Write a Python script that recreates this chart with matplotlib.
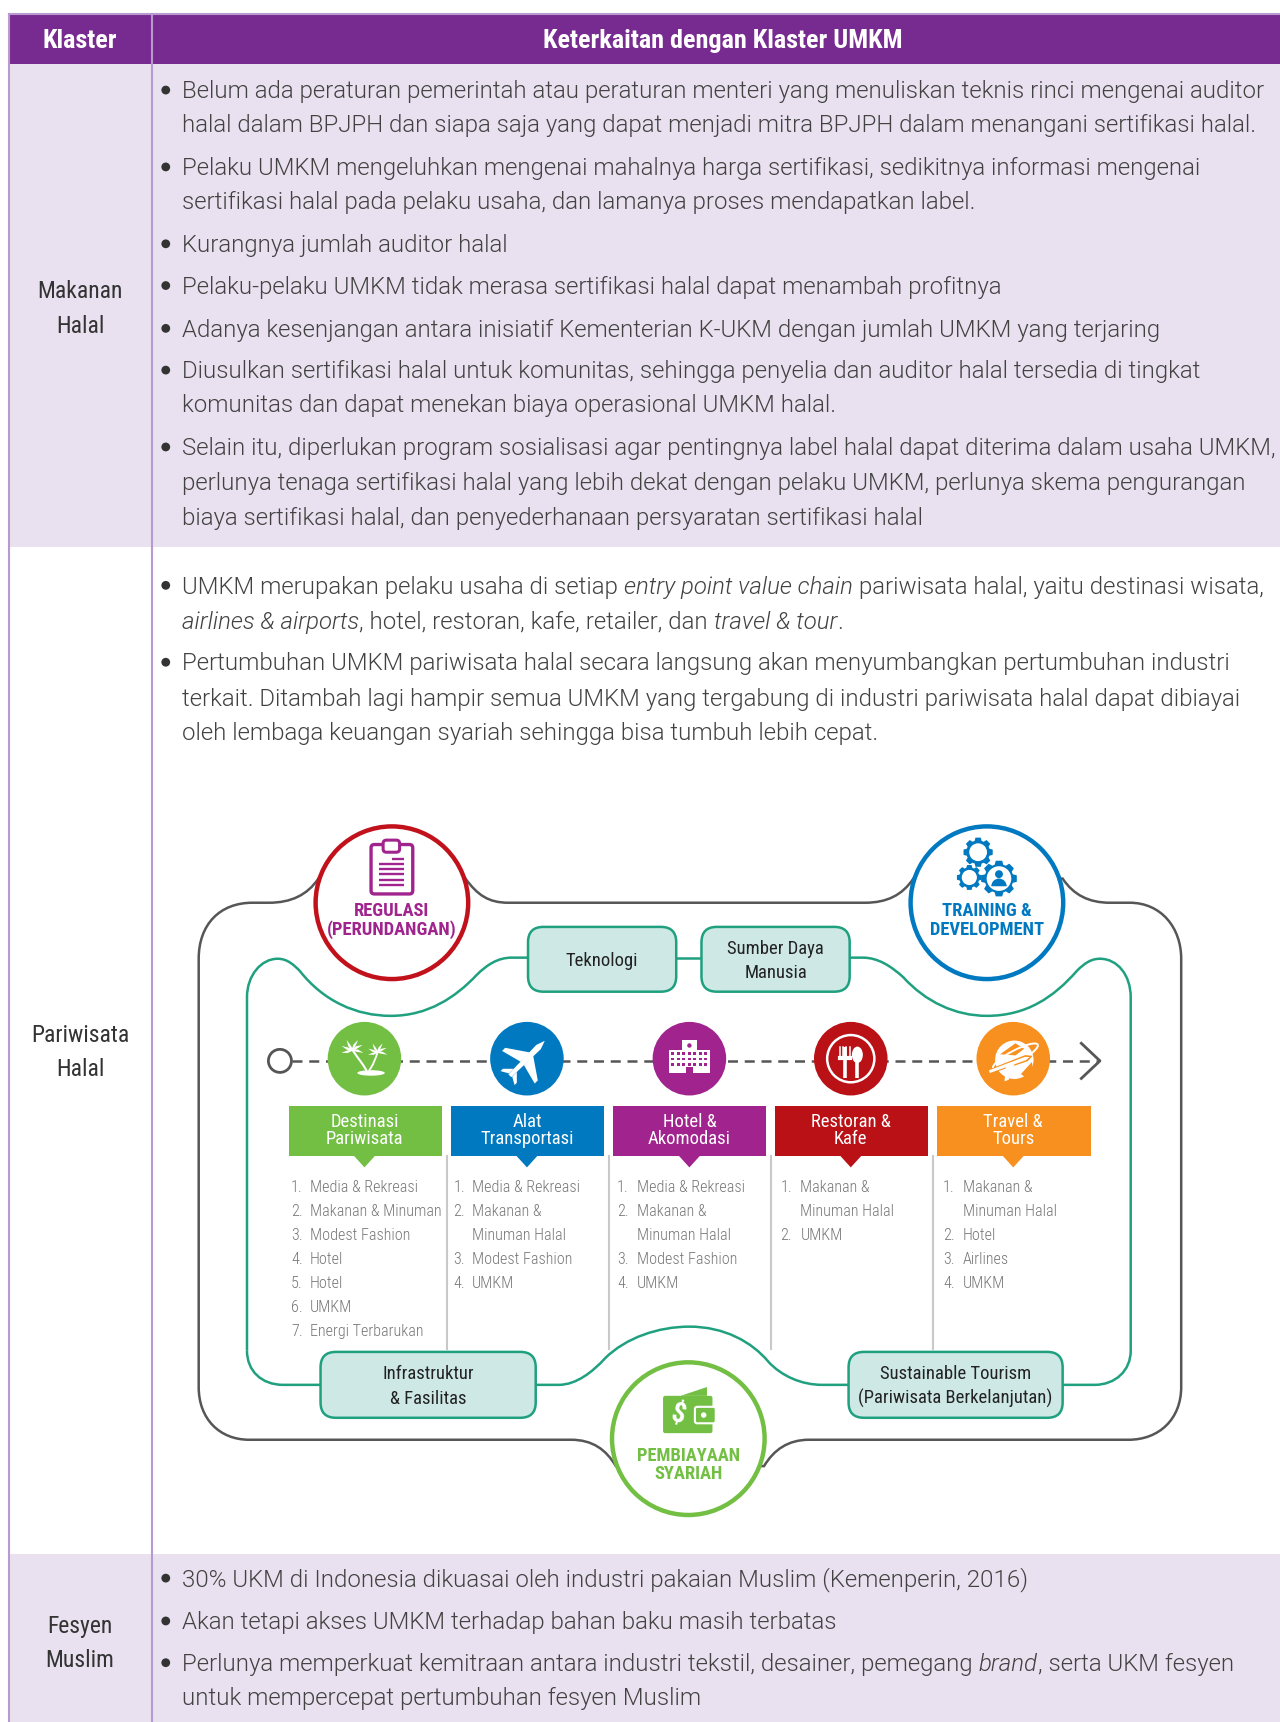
import numpy as np
import matplotlib
matplotlib.use("Agg")
import matplotlib.pyplot as plt
from matplotlib.path import Path
from matplotlib.patches import PathPatch, Circle, Rectangle, FancyBboxPatch, Polygon, Ellipse, Wedge
import logging
logging.getLogger("matplotlib.font_manager").setLevel(logging.ERROR)

# ── Isi tabel ────────────────────────────────────────────────────────────────
HEADER = ["Klaster", "Keterkaitan dengan Klaster UMKM"]
CLUSTERS = [["Makanan", "Halal"], ["Pariwisata", "Halal"], ["Fesyen", "Muslim"]]
CLUSTER_Y = [[265, 297], [943, 974], [1481, 1512]]

# teks di antara * dicetak miring
ROW1 = [
    ["Belum ada peraturan pemerintah atau peraturan menteri yang menuliskan teknis rinci mengenai auditor",
     "halal dalam BPJPH dan siapa saja yang dapat menjadi mitra BPJPH dalam menangani sertifikasi halal."],
    ["Pelaku UMKM mengeluhkan mengenai mahalnya harga sertifikasi, sedikitnya informasi mengenai",
     "sertifikasi halal pada pelaku usaha, dan lamanya proses mendapatkan label."],
    ["Kurangnya jumlah auditor halal"],
    ["Pelaku-pelaku UMKM tidak merasa sertifikasi halal dapat menambah profitnya"],
    ["Adanya kesenjangan antara inisiatif Kementerian K-UKM dengan jumlah UMKM yang terjaring"],
    ["Diusulkan sertifikasi halal untuk komunitas, sehingga penyelia dan auditor halal tersedia di tingkat",
     "komunitas dan dapat menekan biaya operasional UMKM halal."],
    ["Selain itu, diperlukan program sosialisasi agar pentingnya label halal dapat diterima dalam usaha UMKM,",
     "perlunya tenaga sertifikasi halal yang lebih dekat dengan pelaku UMKM, perlunya skema pengurangan",
     "biaya sertifikasi halal, dan penyederhanaan persyaratan sertifikasi halal"],
]
ROW1_Y = [[82, 113], [152, 183], [222], [260], [299], [337, 368], [407, 439, 471]]
ROW2 = [
    ["UMKM merupakan pelaku usaha di setiap *entry point value chain* pariwisata halal, yaitu destinasi wisata,",
     "*airlines & airports*, hotel, restoran, kafe, retailer, dan *travel & tour*."],
    ["Pertumbuhan UMKM pariwisata halal secara langsung akan menyumbangkan pertumbuhan industri",
     "terkait. Ditambah lagi hampir semua UMKM yang tergabung di industri pariwisata halal dapat dibiayai",
     "oleh lembaga keuangan syariah sehingga bisa tumbuh lebih cepat."],
]
ROW2_Y = [[533, 565], [603, 635, 666]]
ROW3 = [
    ["30% UKM di Indonesia dikuasai oleh industri pakaian Muslim (Kemenperin, 2016)"],
    ["Akan tetapi akses UMKM terhadap bahan baku masih terbatas"],
    ["Perlunya memperkuat kemitraan antara industri tekstil, desainer, pemegang *brand*, serta UKM fesyen",
     "untuk mempercepat pertumbuhan fesyen Muslim"],
]
ROW3_Y = [[1437], [1476], [1514, 1545]]

CHAIN_TITLES = [["Destinasi", "Pariwisata"], ["Alat", "Transportasi"], ["Hotel &", "Akomodasi"],
                ["Restoran &", "Kafe"], ["Travel &", "Tours"]]
CHAIN_COLORS = ["#72bf44", "#0079c1", "#a0238e", "#b91116", "#f7901e"]
CHAIN_ITEMS = [
    [("1.", "Media & Rekreasi"), ("2.", "Makanan & Minuman"), ("3.", "Modest Fashion"), ("4.", "Hotel"),
     ("5.", "Hotel"), ("6.", "UMKM"), ("7.", "Energi Terbarukan")],
    [("1.", "Media & Rekreasi"), ("2.", "Makanan &"), ("", "Minuman Halal"), ("3.", "Modest Fashion"), ("4.", "UMKM")],
    [("1.", "Media & Rekreasi"), ("2.", "Makanan &"), ("", "Minuman Halal"), ("3.", "Modest Fashion"), ("4.", "UMKM")],
    [("1.", "Makanan &"), ("", "Minuman Halal"), ("2.", "UMKM")],
    [("1.", "Makanan &"), ("", "Minuman Halal"), ("2.", "Hotel"), ("3.", "Airlines"), ("4.", "UMKM")],
]

PURPLE = "#772a8f"
ROW_BG = "#e9e1ef"
RULE = "#b99ad0"
TEAL = "#1fa07f"
TEAL_BG = "#cde8e5"
GRAY = "#565656"
BODY = "#424242"

NARROW = ["Roboto Condensed", "Liberation Sans Narrow", "Roboto"]
LIGHT = ["Roboto"]

fig = plt.figure(figsize=(12.8, 17.22), dpi=100)
ax = fig.add_axes([0, 0, 1, 1])
ax.set_xlim(0, 1166)
ax.set_ylim(1568, 0)
ax.axis("off")
renderer = fig.canvas.get_renderer()
UNIT = 1280 / 1166


def text_width(s, **kw):
    a = ax.text(0, 0, s + "|", **kw)
    b = ax.text(0, 0, "|", **kw)
    w = a.get_window_extent(renderer).width - b.get_window_extent(renderer).width
    a.remove()
    b.remove()
    return w / UNIT


def body_line(x, y, line):
    for i, part in enumerate(line.split("*")):
        if not part:
            continue
        kw = dict(family=LIGHT, fontsize=17.25, weight=300, color=BODY,
                  style="italic" if i % 2 else "normal")
        ax.text(x, y + 7.5, part, va="baseline", ha="left", **kw)
        x += text_width(part, **kw)


def bullets(rows, ys):
    for lines, yy in zip(rows, ys):
        ax.add_patch(Circle((151, yy[0]), 4, fc="#333333", ec="none", zorder=3))
        for line, y in zip(lines, yy):
            body_line(166, y, line)


def draw_path(cmds, color, lw, zorder=2):
    verts, codes = [], []
    for c in cmds:
        if c[0] == "M":
            verts.append(c[1]); codes.append(Path.MOVETO)
        elif c[0] == "L":
            verts.append(c[1]); codes.append(Path.LINETO)
        else:
            verts += [c[1], c[2], c[3]]; codes += [Path.CURVE4] * 3
    ax.add_patch(PathPatch(Path(verts, codes), fc="none", ec=color, lw=lw, zorder=zorder))


def poly(pts, color, z=6):
    ax.add_patch(Polygon(pts, closed=True, fc=color, ec="none", zorder=z))


def rotated(pts, cx, cy, deg, s=1.0):
    a = np.deg2rad(deg)
    out = []
    for px, py in pts:
        out.append((cx + s * (px * np.cos(a) - py * np.sin(a)), cy + s * (px * np.sin(a) + py * np.cos(a))))
    return out


def gear(cx, cy, r, color, hole=0.6):
    pts = []
    n = 8
    for i in range(n):
        base = 2 * np.pi * i / n
        for off, rad in [(-0.30, r * 0.8), (-0.18, r), (0.18, r), (0.30, r * 0.8)]:
            pts.append((cx + rad * np.cos(base + off), cy + rad * np.sin(base + off)))
    poly(pts, color, 6)
    ax.add_patch(Circle((cx, cy), r * hole, fc="white", ec="none", zorder=7))


# ── Tabel ────────────────────────────────────────────────────────────────────
ax.add_patch(Rectangle((8, 58), 1158, 440, fc=ROW_BG, ec="none", zorder=0))
ax.add_patch(Rectangle((8, 1415), 1158, 153, fc=ROW_BG, ec="none", zorder=0))
ax.add_patch(Rectangle((8, 13), 1158, 45, fc=PURPLE, ec="none", zorder=1))
ax.plot([8, 1166], [13, 13], color=RULE, lw=1.5, zorder=2)
ax.plot([8, 8], [13, 1568], color=RULE, lw=1.5, zorder=2)
ax.plot([138.5, 138.5], [13, 1568], color=RULE, lw=1.5, zorder=2)
ax.text(73, 37.5, HEADER[0], color="white", family=NARROW, weight="bold", fontsize=18.9, ha="center", va="center")
ax.text(658, 37.5, HEADER[1], color="white", family=NARROW, weight="bold", fontsize=18.9, ha="center", va="center")

for names, yy in zip(CLUSTERS, CLUSTER_Y):
    for name, y in zip(names, yy):
        ax.text(73, y, name, color="#333333", family=NARROW, fontsize=17, ha="center", va="center")

bullets(ROW1, ROW1_Y)
bullets(ROW2, ROW2_Y)
bullets(ROW3, ROW3_Y)

# ── Bingkai luar (abu-abu) ───────────────────────────────────────────────────
draw_path([("M", (181, 873)), ("C", (181, 842), (200, 822), (230, 822)), ("L", (245, 822)),
           ("C", (265, 822), (280, 815), (290, 800)), ("L", (424, 800)),
           ("C", (435, 815), (445, 822), (463, 822)), ("L", (788, 822)),
           ("C", (808, 822), (822, 815), (832, 800)), ("L", (968, 800)),
           ("C", (978, 815), (992, 822), (1011, 822)), ("L", (1029, 822)),
           ("C", (1058, 822), (1076, 845), (1076, 873)), ("L", (1076, 1263)),
           ("C", (1076, 1292), (1056, 1311), (1028, 1311)), ("L", (737, 1311)),
           ("C", (718, 1311), (705, 1320), (696, 1335)), ("L", (561, 1335)),
           ("C", (552, 1320), (540, 1311), (520, 1311)), ("L", (227, 1311)),
           ("C", (200, 1311), (181, 1292), (181, 1263)), ("L", (181, 873))], GRAY, 1.8)

# ── Bingkai dalam (hijau) ────────────────────────────────────────────────────
draw_path([("M", (225, 1230)), ("L", (225, 908)),
           ("C", (225, 888), (238, 873), (253, 873)),
           ("C", (262, 873), (268, 879), (273, 884)),
           ("C", (295, 912), (325, 925), (356, 925)),
           ("C", (390, 925), (415, 908), (434, 888)),
           ("C", (444, 878), (454, 872), (466, 872)), ("L", (481, 872))], TEAL, 1.8)
draw_path([("M", (616, 872)), ("L", (639, 872))], TEAL, 1.8)
draw_path([("M", (774, 872)), ("L", (786, 872)),
           ("C", (800, 872), (812, 880), (823, 890)),
           ("C", (843, 912), (870, 925), (899, 925)),
           ("C", (935, 925), (960, 908), (981, 884)),
           ("C", (988, 877), (994, 873), (1002, 873)),
           ("C", (1018, 873), (1030, 888), (1030, 908)), ("L", (1030, 1230)),
           ("C", (1030, 1248), (1016, 1261), (997, 1261)), ("L", (968, 1261))], TEAL, 1.8)
draw_path([("M", (488, 1261)), ("L", (509, 1261)),
           ("C", (525, 1261), (540, 1249), (551, 1237)),
           ("C", (570, 1218), (600, 1208), (628, 1208)),
           ("C", (660, 1208), (685, 1222), (700, 1240)),
           ("C", (712, 1253), (730, 1261), (749, 1261)), ("L", (773, 1261))], TEAL, 1.8)
draw_path([("M", (225, 1230)), ("C", (225, 1248), (238, 1261), (258, 1261)), ("L", (292, 1261))], TEAL, 1.8)

BOX_TEXT = [["Teknologi"], ["Sumber Daya", "Manusia"], ["Infrastruktur", "& Fasilitas"],
            ["Sustainable Tourism", "(Pariwisata Berkelanjutan)"]]
BOX_POS = [(481, 844, 135, 59), (639, 844, 135, 59), (292, 1231, 196, 60), (773, 1231, 195, 60)]
for lines, (bx, by, bw, bh) in zip(BOX_TEXT, BOX_POS):
    ax.add_patch(FancyBboxPatch((bx + 14, by + 14), bw - 28, bh - 28, boxstyle="round,pad=14,rounding_size=14",
                                fc=TEAL_BG, ec=TEAL, lw=1.8, zorder=4, mutation_aspect=1))
    cy = by + bh / 2 + 1.5
    ys = [cy] if len(lines) == 1 else [cy - 11, cy + 11]
    for line, y in zip(lines, ys):
        ax.text(bx + bw / 2, y, line, color="#222222", family=NARROW, fontsize=13.4, ha="center", va="center", zorder=5)

# ── Lingkaran besar ──────────────────────────────────────────────────────────
BIG = [(357, 822, "#c1121c"), (899, 822, "#0079c1"), (627, 1310, "#72bf44")]
for cx, cy, col in BIG:
    ax.add_patch(Circle((cx, cy), 69.5, fc="white", ec=col, lw=3.2, zorder=4))
BIG_TEXT = [(357, ["REGULASI", "(PERUNDANGAN)"], "#a0238e", [829.5, 846.5]),
            (899, ["TRAINING &", "DEVELOPMENT"], "#0079c1", [829.5, 846.5]),
            (627, ["PEMBIAYAAN", "SYARIAH"], "#72bf44", [1325.5, 1342.5])]
for x, lines, col, ys in BIG_TEXT:
    for line, y in zip(lines, ys):
        ax.text(x, y, line, color=col, family=NARROW, weight="bold", fontsize=13.3, ha="center", va="center", zorder=6)

# ikon clipboard
ax.add_patch(FancyBboxPatch((340, 771), 34, 41, boxstyle="round,pad=2,rounding_size=3", fc="white", ec="#a0238e", lw=2.4, zorder=6))
ax.add_patch(FancyBboxPatch((350, 766), 13, 9, boxstyle="round,pad=1,rounding_size=3", fc="white", ec="#a0238e", lw=2.2, zorder=7))
for y0, x0 in zip([782, 787, 791.5, 796, 801, 805.5], [357, 345, 345, 345, 345, 345]):
    ax.plot([x0, 368], [y0, y0], color="#a0238e", lw=1.7, zorder=7, solid_capstyle="butt")

# ikon gir
gear(891, 776, 13.5, "#0079c1")
gear(883, 799, 11.5, "#0079c1")
gear(910, 800, 16.5, "#0079c1", 0.68)
ax.add_patch(Circle((910, 796), 3.6, fc="#0079c1", ec="none", zorder=8))
ax.add_patch(Wedge((910, 807), 7, 180, 360, fc="#0079c1", ec="none", zorder=8))

# ikon dompet
poly([(620, 1271), (644, 1263), (644, 1271)], "#72bf44")
ax.add_patch(FancyBboxPatch((605, 1272), 43, 32, boxstyle="round,pad=1,rounding_size=2", fc="#72bf44", ec="none", zorder=6))
ax.add_patch(FancyBboxPatch((634, 1282), 17, 13, boxstyle="round,pad=1,rounding_size=2", fc="#72bf44", ec="white", lw=1.5, zorder=7))
ax.add_patch(Circle((641, 1288.5), 2.5, fc="white", ec="none", zorder=8))
ax.text(618, 1288, "$", color="white", family=NARROW, weight="bold", fontsize=20, rotation=-15, ha="center", va="center", zorder=7)

# ── Rantai nilai ─────────────────────────────────────────────────────────────
ax.plot([266, 1000], [966, 966], color=GRAY, lw=1.8, dashes=(4, 2.7), zorder=2)
ax.add_patch(Circle((255, 966), 10.5, fc="white", ec=GRAY, lw=2, zorder=3))
ax.plot([985, 1002, 985], [950, 966, 982], color=GRAY, lw=2, zorder=3)

HEAD_LEFT = [263, 411, 558, 706, 854]
ICON_X = [332, 480, 628, 775, 923]
NUM_X = [265, 413, 562, 711, 859]
TXT_X = [282, 430, 580, 729, 877]
DIVIDERS = [407.5, 555, 702.5, 850]

for x in DIVIDERS:
    ax.plot([x, x], [1053, 1228], color="#c9c9c9", lw=1.5, zorder=1)

for i in range(5):
    col = CHAIN_COLORS[i]
    left = HEAD_LEFT[i]
    ax.add_patch(Circle((ICON_X[i], 964), 33.5, fc=col, ec="none", zorder=4))
    ax.add_patch(Rectangle((left, 1007), 139.5, 46, fc=col, ec="none", zorder=3))
    poly([(ICON_X[i] - 10, 1052), (ICON_X[i] + 10, 1052), (ICON_X[i], 1063)], col, 3)
    for line, y in zip(CHAIN_TITLES[i], [1022, 1037]):
        ax.text(ICON_X[i], y, line, color="white", family=NARROW, fontsize=13.4, ha="center", va="center", zorder=5)
    for k, (num, item) in enumerate(CHAIN_ITEMS[i]):
        y = 1081 + 21.95 * k
        if num:
            ax.text(NUM_X[i], y, num, color="#777777", family=NARROW, weight=300, fontsize=11.6, va="center", zorder=5)
        ax.text(TXT_X[i], y, item, color="#777777", family=NARROW, weight=300, fontsize=11.6, va="center", zorder=5)

# ikon pantai
ax.add_patch(Ellipse((338, 977), 25, 5, fc="white", ec="none", zorder=6))
draw_path([("M", (334, 975)), ("C", (330, 968), (325, 962), (321, 956))], "white", 1.5, 6)
draw_path([("M", (336, 975)), ("C", (340, 970), (342, 964), (344, 958))], "white", 1.3, 6)
for cx, cy, s in [(321, 956, 0.8), (344, 958, 0.7)]:
    for deg in [200, 240, 300, 335, 15, 165]:
        poly(rotated([(0, -1), (6, -2), (13, 0), (6, 0.8), (0, 1)], cx, cy, deg, s), "white")

# ikon pesawat
PLANE = [(-22, -1.8), (15, -2.8), (23, 0), (15, 2.8), (-22, 1.8)]
WING = [(-6, -2), (6, -2), (-7, -21), (-11, -21)]
c0 = (480, 964)
poly(rotated(PLANE, c0[0], c0[1], -45), "white")
poly(rotated(WING, c0[0], c0[1], -45), "white")
poly(rotated([(x, -y) for x, y in WING], c0[0], c0[1], -45), "white")
poly(rotated([(-21, -2), (-15, -2), (-22, -9), (-25, -9)], c0[0], c0[1], -45), "white")
poly(rotated([(-21, 2), (-15, 2), (-22, 9), (-25, 9)], c0[0], c0[1], -45), "white")

# ikon rumah sakit
ax.add_patch(Rectangle((609, 956), 38, 21, fc="white", ec="none", zorder=6))
ax.add_patch(Rectangle((621, 947), 14, 10, fc="white", ec="none", zorder=6))
for gx in [611.5, 616.5, 621.5, 626.5, 631.5, 636.5, 641.5]:
    for gy in [958, 963, 968]:
        ax.add_patch(Rectangle((gx, gy), 2.6, 2.6, fc="#a0238e", ec="none", zorder=7))
ax.add_patch(Circle((628, 952), 2, fc="#a0238e", ec="none", zorder=7))
ax.add_patch(Rectangle((625, 972), 6, 5, fc="#a0238e", ec="none", zorder=7))

# ikon restoran
ax.add_patch(Circle((775, 964), 21.5, fc="none", ec="white", lw=1.8, zorder=6))
ax.plot([769.5, 769.5], [953, 982], color="white", lw=2.6, solid_capstyle="butt", zorder=6)
for fx in [765, 768, 771, 774]:
    ax.plot([fx, fx], [953, 963], color="white", lw=1.1, zorder=6)
ax.plot([765, 774], [963, 963], color="white", lw=3, zorder=6)
ax.add_patch(Ellipse((781, 960.5), 10, 15, fc="white", ec="none", zorder=6))
ax.plot([781, 781], [962, 982], color="white", lw=2.6, solid_capstyle="butt", zorder=6)

# ikon wisata
ax.add_patch(Circle((924, 965), 17.5, fc="white", ec="none", zorder=6))
poly([(911, 960), (925, 950), (933, 955), (925, 961)], "#f7901e", 7)
poly([(930, 978), (940, 967), (941, 974), (934, 981)], "#f7901e", 7)
ax.add_patch(Ellipse((925, 962), 46, 11, angle=-28, fc="none", ec="white", lw=1.4, zorder=7))
poly(rotated([(-22, -2), (16, -3), (22, 0), (16, 3), (-22, 2)], 920, 969, -20), "#f7901e", 8)
poly(rotated([(-20, -1.3), (15, -1.6), (19, 0), (15, 1.6), (-20, 1.3)], 920, 969, -20), "white", 9)
poly(rotated([(-4, 0), (5, 0), (-6, 13), (-10, 13)], 920, 969, -20), "white", 9)

fig.savefig("out.png", dpi=100)
